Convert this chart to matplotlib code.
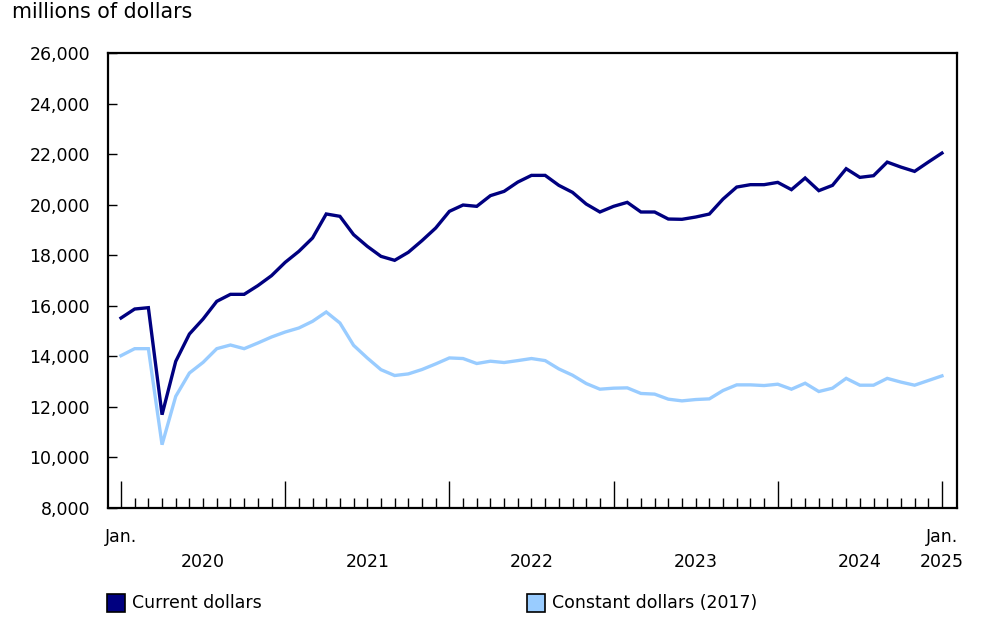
import numpy as np
import matplotlib.pyplot as plt
from matplotlib.patches import Rectangle
from matplotlib.transforms import blended_transform_factory

# monthly, Jan. 2020 to Jan. 2025
current = [15515, 15871, 15924, 11690, 13800, 14882, 15476, 16175, 16452, 16452,
           16795, 17190, 17718, 18153, 18681, 19631, 19538, 18813, 18351, 17955,
           17797, 18115, 18577, 19075, 19735, 19985, 19933, 20356, 20526, 20893,
           21158, 21158, 20763, 20486, 20024, 19709, 19933, 20091, 19709, 19709,
           19431, 19420, 19510, 19628, 20221, 20696, 20790, 20790, 20881, 20593,
           21054, 20553, 20763, 21422, 21079, 21145, 21683, 21486, 21316, 21683,
           22040]
constant = [14025, 14302, 14302, 10503, 12416, 13339, 13761, 14302, 14447, 14302,
            14526, 14764, 14961, 15120, 15384, 15753, 15318, 14434, 13933, 13471,
            13240, 13304, 13478, 13699, 13936, 13912, 13715, 13806, 13754, 13830,
            13912, 13830, 13501, 13252, 12924, 12699, 12739, 12752, 12530, 12504,
            12304, 12237, 12290, 12316, 12647, 12870, 12870, 12843, 12896, 12699,
            12935, 12607, 12739, 13127, 12857, 12857, 13127, 12980, 12857, 13041,
            13225]
years = ["2020", "2021", "2022", "2023", "2024", "2025"]
series_names = ["Current dollars", "Constant dollars (2017)"]
colors = ["#000080", "#99ccff"]

plt.rcParams['font.family'] = ['DejaVu Sans']
FS = 12.5

fig = plt.figure(figsize=(10, 6.3), dpi=100)
ax = fig.add_axes([0.108, 0.1937, 0.849, 0.7222])

months = np.arange(len(current))
ax.plot(months, current, color=colors[0], lw=2.4, solid_joinstyle='miter')
ax.plot(months, constant, color=colors[1], lw=2.4, solid_joinstyle='miter')

ax.set_xlim(-0.95, 61.1)
ax.set_ylim(8000, 26000)
ax.set_yticks(np.arange(8000, 26001, 2000))
ax.set_yticklabels([f"{v:,}" for v in range(8000, 26001, 2000)], fontsize=FS)
ax.tick_params(axis='y', direction='in', length=6.5, width=1, pad=13)

ax.set_xticks(np.arange(0, 61, 12))
ax.set_xticks(np.arange(0, 61, 1), minor=True)
ax.set_xticklabels([])
ax.tick_params(axis='x', which='major', direction='in', length=19.5, width=1)
ax.tick_params(axis='x', which='minor', direction='in', length=7.5, width=1)

for s in ax.spines.values():
    s.set_linewidth(1.6)

tr = blended_transform_factory(ax.transData, fig.transFigure)
ax.text(0, 1 - 537 / 630, "Jan.", transform=tr, ha='center', va='center', fontsize=FS)
ax.text(60, 1 - 537 / 630, "Jan.", transform=tr, ha='center', va='center', fontsize=FS)
for k, y in enumerate(years[:-1]):
    ax.text(12 * k + 6, 1 - 562 / 630, y, transform=tr, ha='center', va='center', fontsize=FS)
ax.text(60, 1 - 562 / 630, years[-1], transform=tr, ha='center', va='center', fontsize=FS)

fig.text(12 / 1000, 1 - 12 / 630, "millions of dollars", ha='left', va='center', fontsize=14.8)

# legend
for x0, name, c in zip([107, 527], series_names, colors):
    fig.patches.append(Rectangle((x0 / 1000, 1 - 612 / 630), 18 / 1000, 18 / 630,
                                 transform=fig.transFigure, facecolor=c,
                                 edgecolor='black', lw=1.2))
    fig.text((x0 + 25) / 1000, 1 - 603 / 630, name, ha='left', va='center', fontsize=FS)

fig.savefig("out.png", dpi=100, facecolor="white")
